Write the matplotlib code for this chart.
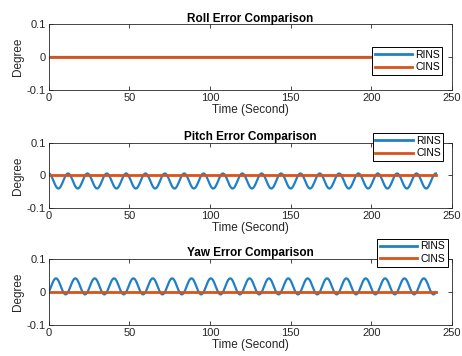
import numpy as np
import matplotlib
matplotlib.use("Agg")
import matplotlib.pyplot as plt

plt.rcParams['font.family'] = ['Liberation Sans', 'DejaVu Sans']

# ---- data ----
titles = ["Roll Error Comparison", "Pitch Error Comparison", "Yaw Error Comparison"]
series_names = ["RINS", "CINS"]
cycle_period = 12.0      # seconds per oscillation
n_cycles = 20            # 0 .. 240 s
sample_step = 0.5
# one cycle of RINS error (degree), sampled every 0.5 s
roll_rins_cycle = [0.0] * 24
pitch_rins_cycle = [0.0060, 0.0052, 0.0029, -0.0007, -0.0055, -0.0110, -0.0170, -0.0230,
                    -0.0285, -0.0333, -0.0369, -0.0392, -0.0400, -0.0392, -0.0369, -0.0333,
                    -0.0285, -0.0230, -0.0170, -0.0110, -0.0055, -0.0007, 0.0029, 0.0052]
yaw_rins_cycle = [0.0000, 0.0050, 0.0109, 0.0172, 0.0236, 0.0295, 0.0347, 0.0386,
                  0.0411, 0.0420, 0.0412, 0.0388, 0.0350, 0.0300, 0.0241, 0.0178,
                  0.0114, 0.0055, 0.0004, -0.0036, -0.0061, -0.0070, -0.0062, -0.0038]
cins_value = 0.0
xticks = [0, 50, 100, 150, 200, 250]
yticks = [-0.1, 0, 0.1]
ytick_labels = ["-0.1", "0", "0.1"]

def build(cycle):
    vals = list(cycle) * n_cycles + [cycle[0]]
    t = np.arange(len(vals)) * sample_step
    return t, np.array(vals)

blue = "#1F80C8"
orange = "#D95319"

fig = plt.figure(figsize=(4.62, 3.56), dpi=100)
left, width, height = 0.1054, 0.873, 0.1846
bottoms = [0.747, 0.415, 0.0871]
legend_anchor = [(0.805, 0.868), (0.807, 0.626), (0.816, 0.329)]

for i, (cyc, title) in enumerate(zip([roll_rins_cycle, pitch_rins_cycle, yaw_rins_cycle], titles)):
    ax = fig.add_axes([left, bottoms[i], width, height])
    t, v = build(cyc)
    ax.plot(t, v, color=blue, lw=1.6, label=series_names[0])
    ax.plot(t, np.full_like(t, cins_value), color=orange, lw=2.0, label=series_names[1])
    ax.set_xlim(0, 250)
    ax.set_ylim(-0.1, 0.1)
    ax.set_xticks(xticks)
    ax.set_yticks(yticks)
    ax.set_yticklabels(ytick_labels)
    ax.tick_params(direction='in', top=True, right=True, labelsize=8, length=3,
                   width=0.6, colors='#262626', pad=2)
    for s in ax.spines.values():
        s.set_linewidth(0.6)
        s.set_color('#262626')
    ax.set_title(title, fontsize=8.5, fontweight='bold', pad=2, color='black')
    ax.set_xlabel("Time (Second)", fontsize=8.5, labelpad=1, color='#262626')
    ax.set_ylabel("Degree", fontsize=8.5, labelpad=2, color='#262626')
    leg = fig.legend(handles=ax.get_lines(), loc='upper left',
                     bbox_to_anchor=legend_anchor[i], bbox_transform=fig.transFigure,
                     fontsize=7.5, handlelength=3.6, handletextpad=0.3,
                     borderpad=0.25, labelspacing=0.25, borderaxespad=0,
                     fancybox=False, framealpha=1, edgecolor='black')
    for ln in leg.get_lines():
        ln.set_linewidth(2.0)
    leg.get_frame().set_linewidth(0.7)

fig.savefig("out.png", dpi=100)
